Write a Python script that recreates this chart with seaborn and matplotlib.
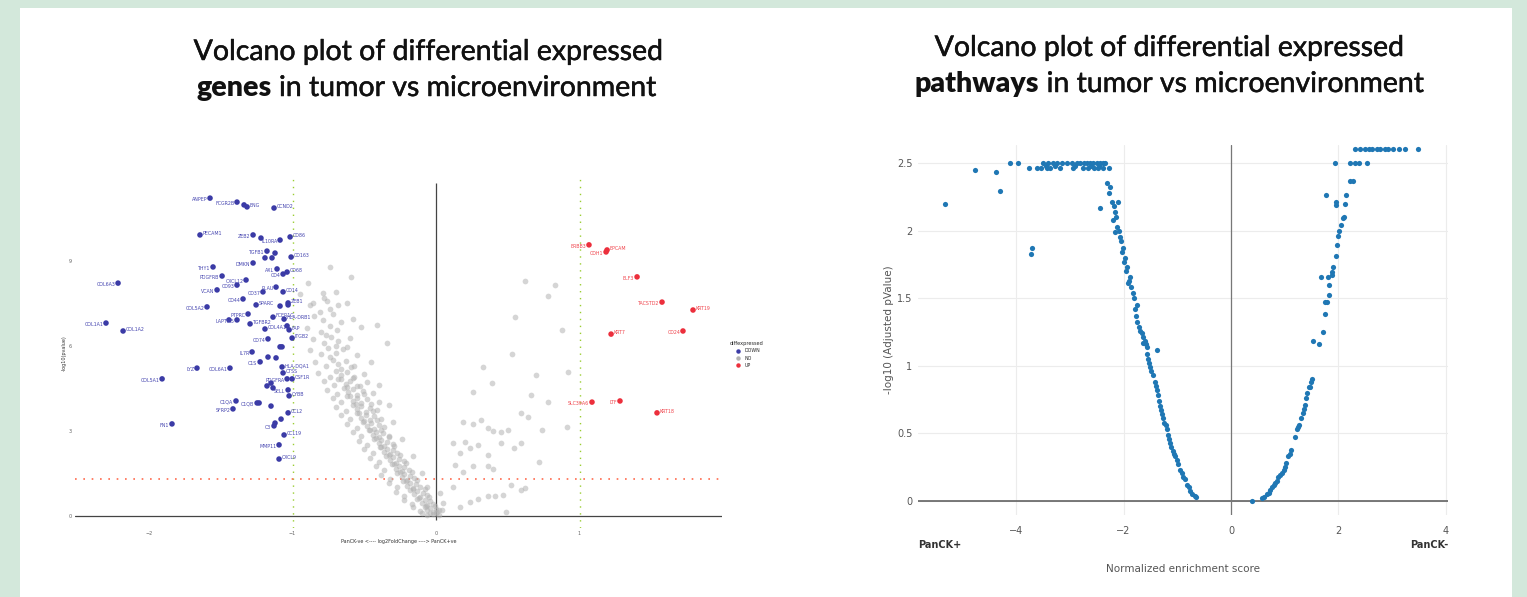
import numpy as np
import pandas as pd
import seaborn as sns
import matplotlib.pyplot as plt
import matplotlib.patheffects as pe
from matplotlib.patches import Rectangle
from matplotlib.lines import Line2D

W, H = 1527, 597

# ---------------- left panel: genes ----------------
down_genes = ["ANPEP", "FCGR2B", "", "ENG", "CCND2", "PECAM1", "ZEB2", "", "IL10RA", "CD86",
              "TGFB1", "", "", "", "CD163", "THY1", "PDGFRB", "DMKN", "AXL", "CD68",
              "CXCL12", "CD4", "COL6A3", "PLAU", "CD14", "VCAN", "CD93", "CD44", "CD37", "ZEB1",
              "SPARC", "", "", "COL5A2", "PTPRC", "FCER1G", "HLA-DRB1", "", "LAPTM5", "COL1A1",
              "TGFBR2", "", "COL1A2", "COL4A1", "FAP", "ITGB2", "CD74", "", "", "IL7R",
              "", "", "COL6A1", "C1S", "HLA-DQA1", "CTSS", "COL5A1", "LYZ", "PDGFRA", "CSF1R",
              "", "", "", "SELL", "CYBB", "C1QA", "C1QB", "", "", "SFRP2",
              "CCL2", "", "", "C3", "FN1", "CCL19", "MMP11", "CXCL9"]
down_lfc = [-1.575, -1.387, -1.338, -1.317, -1.129, -1.645, -1.275, -1.220, -1.087, -1.017,
            -1.178, -1.122, -1.192, -1.143, -1.010, -1.554, -1.491, -1.275, -1.108, -1.038,
            -1.324, -1.066, -2.216, -1.115, -1.066, -1.526, -1.387, -1.345, -1.206, -1.031,
            -1.254, -1.087, -1.031, -1.596, -1.310, -1.136, -1.059, -1.443, -1.387, -2.300,
            -1.296, -1.038, -2.181, -1.192, -1.024, -1.003, -1.171, -1.073, -1.087, -1.282,
            -1.171, -1.115, -1.436, -1.226, -1.073, -1.066, -1.909, -1.666, -1.038, -1.003,
            -1.178, -1.150, -1.136, -1.031, -1.024, -1.394, -1.247, -1.233, -1.150, -1.415,
            -1.031, -1.080, -1.122, -1.129, -1.840, -1.059, -1.094, -1.094]
down_logp = [11.22, 11.08, 10.98, 10.91, 10.87, 9.92, 9.92, 9.81, 9.74, 9.85,
             9.35, 9.28, 9.11, 9.11, 9.14, 8.79, 8.47, 8.93, 8.72, 8.61,
             8.33, 8.54, 8.22, 8.08, 7.91, 7.98, 8.15, 7.66, 7.91, 7.52,
             7.45, 7.41, 7.45, 7.38, 7.13, 7.02, 6.95, 6.92, 6.92, 6.81,
             6.78, 6.71, 6.53, 6.60, 6.57, 6.28, 6.25, 5.97, 5.97, 5.79,
             5.61, 5.58, 5.22, 5.44, 5.26, 5.05, 4.84, 5.22, 4.84, 4.84,
             4.59, 4.69, 4.52, 4.45, 4.24, 4.06, 3.99, 3.99, 3.88, 3.78,
             3.64, 3.42, 3.28, 3.18, 3.25, 2.86, 2.51, 2.01]
down_side = ["l", "l", "", "r", "r", "r", "l", "", "l", "r",
             "l", "", "", "", "r", "l", "l", "l", "l", "r",
             "l", "l", "l", "l", "r", "l", "l", "l", "l", "r",
             "r", "", "", "l", "l", "r", "r", "", "l", "l",
             "r", "", "r", "r", "r", "r", "l", "", "", "l",
             "", "", "l", "l", "r", "r", "l", "l", "l", "r",
             "", "", "", "l", "r", "l", "l", "", "", "l",
             "r", "", "", "l", "l", "r", "l", "r"]

up_genes = ["ERBB3", "EPCAM", "CDH1", "ELF3", "TACSTD2", "KRT19", "KRT7", "CD24", "SLC39A6", "LTF", "KRT18"]
up_lfc = [1.066, 1.192, 1.185, 1.401, 1.575, 1.791, 1.220, 1.721, 1.087, 1.282, 1.540]
up_logp = [9.57, 9.39, 9.32, 8.44, 7.55, 7.27, 6.42, 6.53, 4.02, 4.06, 3.64]
up_side = ["l", "r", "l", "l", "l", "r", "r", "l", "l", "l", "r"]

# non significant genes, read off the grey cloud
no_lfc = [-0.95, -0.78, -0.70, -0.88, -0.74, -0.62, -0.85, -0.79, -0.72, -0.58,
          -0.90, -0.80, -0.74, -0.69, -0.52, -0.86, -0.78, -0.73, -0.68, -0.60,
          -0.88, -0.80, -0.75, -0.70, -0.65, -0.55, -0.84, -0.77, -0.72, -0.68, -0.63, -0.57, -0.45,
          -0.82, -0.74, -0.70, -0.66, -0.62, -0.58, -0.50,
          -0.78, -0.71, -0.66, -0.63, -0.60, -0.55, -0.48, -0.40,
          -0.76, -0.69, -0.64, -0.61, -0.58, -0.55, -0.51, -0.44,
          -0.72, -0.66, -0.62, -0.58, -0.55, -0.52, -0.48, -0.40,
          -0.70, -0.63, -0.58, -0.55, -0.52, -0.49, -0.46, -0.41, -0.33,
          -0.66, -0.60, -0.55, -0.52, -0.49, -0.46, -0.43, -0.38,
          -0.62, -0.55, -0.51, -0.48, -0.45, -0.43, -0.40, -0.36, -0.30,
          -0.58, -0.52, -0.47, -0.44, -0.42, -0.40, -0.37, -0.33,
          -0.54, -0.48, -0.43, -0.40, -0.38, -0.36, -0.34, -0.30, -0.24,
          -0.50, -0.44, -0.39, -0.36, -0.34, -0.32, -0.30, -0.27,
          -0.46, -0.40, -0.35, -0.32, -0.30, -0.28, -0.26, -0.22, -0.16,
          -0.42, -0.36, -0.31, -0.28, -0.26, -0.24, -0.22, -0.19,
          -0.38, -0.32, -0.27, -0.24, -0.22, -0.20, -0.18, -0.15, -0.10,
          -0.33, -0.27, -0.23, -0.20, -0.18, -0.16, -0.14, -0.11,
          -0.28, -0.22, -0.18, -0.15, -0.13, -0.11, -0.09, -0.06,
          -0.22, -0.17, -0.13, -0.10, -0.08, -0.06, -0.04, -0.02,
          -0.16, -0.11, -0.08, -0.06, -0.04, -0.02, 0.00, 0.02,
          -0.10, -0.06, -0.04, -0.02, 0.00, 0.02,
          -0.76, -0.81, -0.66, -0.77, -0.70, -0.62, -0.74, -0.66, -0.59, -0.68, -0.57, -0.62, -0.53,
          -0.60, -0.50, -0.56, -0.45, -0.54, -0.44, -0.50, -0.41, -0.46, -0.38, -0.42, -0.33, -0.38,
          -0.29, -0.33, -0.25, -0.29, -0.21, -0.25, -0.17, -0.21, -0.13, -0.16, -0.08, -0.12, -0.05,
          -0.07, -0.01, 0.01, 0.04,
          -0.89, -0.74, -0.59, -0.79, -0.86, -0.68, -0.41, -0.34,
          0.19, 0.26, 0.31, 0.36, 0.40, 0.45, 0.50, 0.59, 0.64, 0.66, 0.70, 0.92, 0.78, 0.91,
          0.74, 0.39, 0.26, 0.33, 0.12, 0.20, 0.24, 0.29, 0.17, 0.36, 0.45, 0.54, 0.59, 0.13,
          0.26, 0.36, 0.40, 0.19, 0.72, 0.52, 0.62, 0.59, 0.47, 0.41, 0.36, 0.29, 0.24, 0.49,
          0.12, 0.03, 0.05, 0.17, -0.06, 0.62, 0.83, 0.78, 0.55, 0.88, 0.53]
no_logp = [7.85, 7.71, 7.92, 7.45, 7.31, 7.52, 7.05, 6.91, 7.12, 6.97,
           6.65, 6.51, 6.72, 6.57, 6.68, 6.25, 6.11, 6.32, 6.17, 6.28,
           5.85, 5.71, 5.92, 5.77, 5.88, 5.68, 5.45, 5.31, 5.52, 5.37, 5.48, 5.28, 5.42,
           5.05, 4.91, 5.12, 4.97, 5.08, 4.88, 5.02,
           4.75, 4.61, 4.82, 4.67, 4.78, 4.58, 4.72, 4.64,
           4.45, 4.31, 4.52, 4.37, 4.48, 4.28, 4.42, 4.34,
           4.15, 4.01, 4.22, 4.07, 4.18, 3.98, 4.12, 4.04,
           3.85, 3.71, 3.92, 3.77, 3.88, 3.68, 3.82, 3.74, 3.90,
           3.55, 3.41, 3.62, 3.47, 3.58, 3.38, 3.52, 3.44,
           3.25, 3.11, 3.32, 3.17, 3.28, 3.08, 3.22, 3.14, 3.30,
           2.95, 2.81, 3.02, 2.87, 2.98, 2.78, 2.92, 2.84,
           2.65, 2.51, 2.72, 2.57, 2.68, 2.48, 2.62, 2.54, 2.70,
           2.35, 2.21, 2.42, 2.27, 2.38, 2.18, 2.32, 2.24,
           2.05, 1.91, 2.12, 1.97, 2.08, 1.88, 2.02, 1.94, 2.10,
           1.75, 1.61, 1.82, 1.67, 1.78, 1.58, 1.72, 1.64,
           1.45, 1.31, 1.52, 1.37, 1.48, 1.28, 1.42, 1.34, 1.50,
           1.15, 1.01, 1.22, 1.07, 1.18, 0.98, 1.12, 1.04,
           0.85, 0.71, 0.92, 0.77, 0.88, 0.68, 0.82, 0.74,
           0.55, 0.41, 0.60, 0.47, 0.58, 0.38, 0.52, 0.44,
           0.30, 0.18, 0.33, 0.22, 0.28, 0.14, 0.26, 0.20,
           0.10, 0.04, 0.12, 0.06, 0.09, 0.03,
           7.60, 7.20, 6.85, 6.40, 6.00, 5.95, 5.60, 5.20, 5.25, 4.85, 4.90, 4.55, 4.60,
           4.25, 4.30, 3.95, 3.95, 3.65, 3.70, 3.35, 3.38, 3.05, 3.05, 2.75, 2.78, 2.45,
           2.47, 2.15, 2.16, 1.85, 1.88, 1.55, 1.57, 1.25, 1.27, 0.95, 0.97, 0.65, 0.66,
           0.35, 0.37, 0.15, 0.22,
           8.22, 8.79, 8.44, 7.87, 7.52, 7.45, 6.74, 6.11,
           3.32, 3.25, 3.39, 3.10, 3.00, 2.95, 3.05, 3.64, 3.50, 4.27, 4.98, 5.08, 4.02, 3.14,
           3.04, 4.69, 4.38, 5.26, 2.58, 2.60, 2.40, 2.50, 2.22, 2.15, 2.58, 2.40, 2.58, 1.80,
           1.75, 1.75, 1.65, 1.55, 1.91, 1.09, 0.99, 0.90, 0.74, 0.70, 0.70, 0.60, 0.50, 0.14,
           1.02, 0.82, 0.45, 0.30, 1.02, 8.30, 8.15, 7.76, 7.02, 6.56, 5.72]

# ---------------- right panel: pathways ----------------
nes = [-5.33, -4.77, -4.38, -4.30, -4.12, -3.97, -3.76, -3.73, -3.71,
       -3.50, -3.40, -3.31, -3.24, -3.15, -3.06, -2.97, -2.87, -2.81, -2.74, -2.69, -2.63, -2.57, -2.50, -2.44, -2.39, -2.35,
       -3.62, -3.54, -3.43, -3.37, -3.18, -2.94, -2.75, -2.66, -2.56, -2.47, -2.38, -2.28,
       -3.45, -3.28, -2.90, -2.60, -2.45, -2.44,
       -2.31, -2.27, -2.22, -2.10, -2.16, -2.20, -2.12, -2.16, -2.07, -2.01, -1.97, -1.94, -1.88, -1.92,
       -1.83, -1.75, -1.75, -1.69, -1.64, -1.56, -1.38,
       -2.25, -2.18, -2.14, -2.08, -2.05, -2.03, -1.99, -1.96, -1.90, -1.86, -1.80, -1.78, -1.77,
       -1.72, -1.66, -1.60, -1.58,
       -1.64, -1.56, -1.51, -1.45, -1.38, -1.32, -1.27, -1.19, -1.14, -1.04, -0.95, -0.86, -0.76, -0.65,
       -1.54, -1.53, -1.49, -1.42, -1.40, -1.36, -1.34, -1.30, -1.29, -1.25, -1.22, -1.17, -1.16, -1.12,
       -1.09, -1.07, -1.01, -0.99, -0.92, -0.89, -0.82, -0.79, -0.72, -0.68,
       0.39, 0.58, 0.62, 0.67, 0.70, 0.73, 0.76, 0.80, 0.82, 0.85, 0.88, 0.91, 0.95, 0.98, 1.01,
       1.03, 1.06, 1.09, 1.12, 1.19, 1.23, 1.25, 1.27, 1.30, 1.34, 1.36, 1.38, 1.40, 1.42, 1.45,
       1.47, 1.49, 1.50, 1.53, 1.64, 1.71, 1.75, 1.75, 1.78, 1.82, 1.82, 1.68, 1.81, 1.88, 1.88,
       1.90, 1.96, 1.97, 1.99, 2.01, 2.05, 2.09, 2.10, 1.96, 1.96, 2.12, 2.14, 1.77, 2.22, 2.27,
       1.94, 2.22, 2.30, 2.38, 2.53,
       2.31, 2.40, 2.50, 2.56, 2.62, 2.71, 2.77, 2.87, 2.93, 3.02, 3.12, 3.24, 3.48]
path_logp = [2.20, 2.45, 2.43, 2.29, 2.50, 2.50, 2.46, 1.83, 1.87,
             2.50, 2.50, 2.50, 2.50, 2.50, 2.50, 2.50, 2.50, 2.50, 2.50, 2.50, 2.50, 2.50, 2.50, 2.50, 2.50, 2.50,
             2.46, 2.46, 2.46, 2.46, 2.46, 2.46, 2.46, 2.46, 2.46, 2.46, 2.46, 2.46,
             2.48, 2.48, 2.48, 2.48, 2.48, 2.17,
             2.35, 2.28, 2.21, 2.21, 2.14, 2.08, 2.03, 1.99, 1.95, 1.87, 1.80, 1.73, 1.66, 1.61,
             1.54, 1.45, 1.32, 1.26, 1.21, 1.14, 1.12,
             2.32, 2.18, 2.10, 2.00, 1.92, 1.84, 1.77, 1.70, 1.63, 1.58, 1.50, 1.42, 1.37,
             1.29, 1.24, 1.18, 1.16,
             1.17, 1.09, 0.99, 0.93, 0.82, 0.70, 0.61, 0.53, 0.43, 0.33, 0.23, 0.16, 0.07, 0.03,
             1.05, 1.02, 0.96, 0.88, 0.85, 0.78, 0.74, 0.67, 0.64, 0.58, 0.56, 0.49, 0.46, 0.40,
             0.37, 0.35, 0.30, 0.27, 0.21, 0.18, 0.12, 0.10, 0.05, 0.04,
             0.00, 0.02, 0.03, 0.05, 0.06, 0.08, 0.10, 0.12, 0.13, 0.15, 0.18, 0.19, 0.21, 0.23, 0.25,
             0.28, 0.33, 0.35, 0.38, 0.47, 0.53, 0.55, 0.56, 0.61, 0.65, 0.68, 0.71, 0.76, 0.80, 0.84,
             0.84, 0.88, 0.90, 1.18, 1.16, 1.25, 1.38, 1.47, 1.47, 1.52, 1.60, 1.66, 1.66, 1.67, 1.69,
             1.73, 1.81, 1.89, 1.96, 2.00, 2.04, 2.09, 2.10, 2.19, 2.21, 2.20, 2.26, 2.26, 2.37, 2.37,
             2.50, 2.50, 2.50, 2.50, 2.50,
             2.60, 2.60, 2.60, 2.60, 2.60, 2.60, 2.60, 2.60, 2.60, 2.60, 2.60, 2.60, 2.60]

sns.set_theme(style="white")
plt.rcParams['font.family'] = ['DejaVu Sans']

fig = plt.figure(figsize=(W / 100, H / 100), dpi=100)
fig.patch.set_facecolor('#d3e8db')
fig.patches.append(Rectangle((20 / W, 0), 1492 / W, 1 - 8 / H, transform=fig.transFigure,
                             facecolor='white', edgecolor='none', zorder=-5))


def px(x, y):
    return x / W, 1 - y / H


def title(xc, yc, parts, size=20.5):
    r = fig.canvas.get_renderer()
    texts = []
    for s, w in parts:
        t = fig.text(0, 1 - yc / H, s, fontsize=size, fontweight=w, family='Lato',
                     va='center', color='#111111')
        if w != 'heavy':
            t.set_path_effects([pe.withStroke(linewidth=0.35, foreground='#111111')])
        texts.append(t)
    widths = [t.get_window_extent(r).width for t in texts]
    x0 = xc - sum(widths) / 2
    for t, w in zip(texts, widths):
        t.set_x(x0 / W)
        x0 += w


title(429, 52, [("Volcano plot of differential expressed", 'normal')])
title(427, 88, [("genes", 'heavy'), (" in tumor vs microenvironment", 'normal')])
title(1170, 48, [("Volcano plot of differential expressed", 'normal')])
title(1170, 84, [("pathways", 'heavy'), (" in tumor vs microenvironment", 'normal')])

# ---------- genes volcano ----------
blue, red, grey = '#3b3ba6', '#ec2f3c', '#b3b3b3'
ax1 = fig.add_axes([75 / W, 1 - 528 / H, 647 / W, 350 / H])
ax1.patch.set_alpha(0)
no_df = pd.DataFrame({'log2FoldChange': no_lfc, 'logp': no_logp})
sig_df = pd.DataFrame({'log2FoldChange': down_lfc + up_lfc, 'logp': down_logp + up_logp,
                       'gene': down_genes + up_genes,
                       'diffexpressed': ['DOWN'] * len(down_genes) + ['UP'] * len(up_genes)})
sns.scatterplot(data=no_df, x='log2FoldChange', y='logp', color=grey, s=17, alpha=0.55,
                linewidth=0, ax=ax1, zorder=2)
sns.scatterplot(data=sig_df, x='log2FoldChange', y='logp', hue='diffexpressed',
                palette={'DOWN': blue, 'UP': red}, s=16, linewidth=0, ax=ax1, legend=False, zorder=3)

for g, x, y, side in zip(down_genes + up_genes, down_lfc + up_lfc, down_logp + up_logp,
                         down_side + up_side):
    if not g:
        continue
    c = '#4646b0' if x < 0 else '#f0444c'
    if side == 'l':
        ax1.annotate(g, (x, y), xytext=(-2, -1), textcoords='offset points', ha='right',
                     va='center', fontsize=3.4, color=c, zorder=4)
    else:
        ax1.annotate(g, (x, y), xytext=(2, 1), textcoords='offset points', ha='left',
                     va='center', fontsize=3.4, color=c, zorder=4)

ax1.set_xlim(-2.516, 1.993)
ax1.set_ylim(-0.424, 11.93)
ax1.axhline(0, color='#444444', lw=0.9, zorder=1)
ax1.vlines(0, -0.15, 11.75, color='#444444', lw=0.9, zorder=1)
for v in (-1, 1):
    ax1.axvline(v, color='#9acd32', lw=1.0, ls=(0, (1, 4)), zorder=1)
ax1.axhline(1.301, color='#ff6a4d', lw=1.2, ls=(0, (1, 4)), zorder=1)
ax1.set_xticks([-2, -1, 0, 1])
ax1.set_yticks([0, 3, 6, 9])
ax1.tick_params(labelsize=3.5, colors='#666666', length=0, pad=2)
ax1.set_xlabel('PanCK-ve <---- log2FoldChange ----> PanCK+ve', fontsize=3.5, color='#333333', labelpad=2)
ax1.set_ylabel('-log10(pvalue)', fontsize=3.5, color='#333333', labelpad=2)
for s in ax1.spines.values():
    s.set_visible(False)
handles = [Line2D([], [], marker='o', ls='', color=c, markersize=2.2) for c in (blue, grey, red)]
fig.legend(handles, ['DOWN', 'NO', 'UP'], title='diffexpressed', loc='upper left',
           bbox_to_anchor=px(727, 338), fontsize=3.4, title_fontsize=3.6, frameon=False,
           handletextpad=0.3, labelspacing=0.5, borderpad=0.1)

# ---------- pathways volcano ----------
ax2 = fig.add_axes([918 / W, 1 - 515 / H, 530 / W, 370 / H])
ax2.patch.set_alpha(0)
path_df = pd.DataFrame({'NES': nes, 'logp': path_logp})
sns.scatterplot(data=path_df, x='NES', y='logp', color='#1f77b4', s=14, linewidth=0, ax=ax2, zorder=3)
ax2.set_xlim(-5.83, 4.04)
ax2.set_ylim(-0.104, 2.633)
ax2.set_xticks([-4, -2, 0, 2, 4])
ax2.set_xticklabels(['\u22124', '\u22122', '0', '2', '4'])
ax2.set_yticks([0, 0.5, 1, 1.5, 2, 2.5])
ax2.set_yticklabels(['0', '0.5', '1', '1.5', '2', '2.5'])
ax2.grid(True, color='#ececec', lw=0.8)
ax2.axhline(0, color='#555555', lw=1.1, zorder=2)
ax2.axvline(0, color='#777777', lw=0.9, zorder=2)
ax2.tick_params(axis='x', labelsize=7, colors='#555555', length=0, pad=8)
ax2.tick_params(axis='y', labelsize=7, colors='#555555', length=0, pad=4)
for s in ax2.spines.values():
    s.set_visible(False)
ax2.set_xlabel('Normalized enrichment score', fontsize=7.5, color='#555555', labelpad=20)
ax2.set_ylabel('-log10 (Adjusted pValue)', fontsize=7.5, color='#555555', labelpad=2)
fig.text(*px(918, 545), 'PanCK+', fontsize=7, fontweight='bold', color='#333333', va='center')
fig.text(*px(1448, 545), 'PanCK-', fontsize=7, fontweight='bold', color='#333333', va='center', ha='right')

fig.savefig('out.png', dpi=100, facecolor=fig.get_facecolor())
